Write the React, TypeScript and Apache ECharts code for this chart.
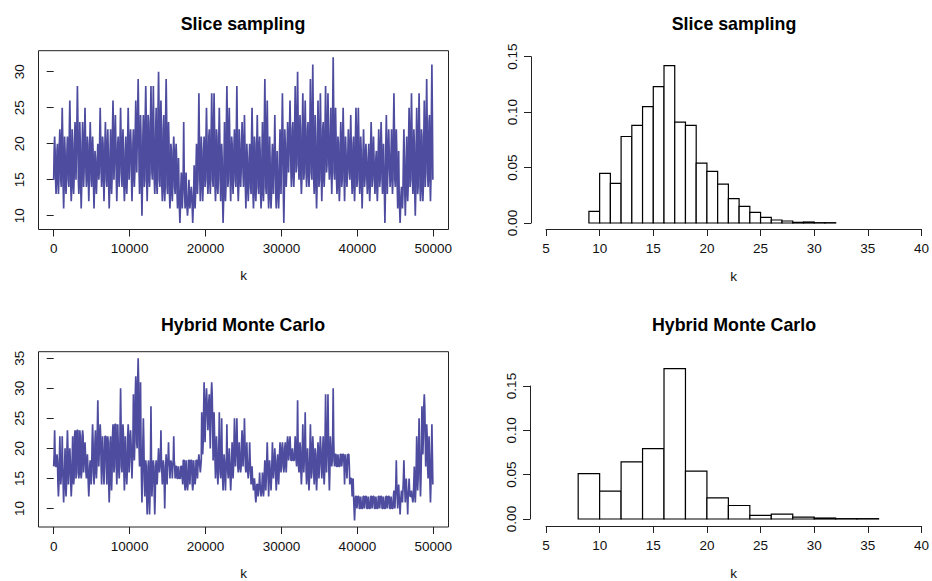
import React, { useEffect, useRef } from 'react';
import * as echarts from 'echarts';

const FONT = '"Liberation Sans", Arial, Helvetica, sans-serif';
const TRACE_COLOR = '#4E4C9F';
const AXIS_COLOR = '#222';

// ---- Trace data, per 500 iterations ----
// hi/lo: extreme values reached in the segment; bandHi/bandLo: edges of the dense band
const STEP = 500;
const sliceHi = [
  21, 22, 25, 21, 26, 23, 28, 23, 25, 23,
  21, 20, 25, 23, 22, 26, 24, 25, 22, 25,
  22, 26, 29, 24, 28, 28, 28, 30, 26, 29,
  23, 21, 20, 16, 23, 15, 14, 20, 27, 21,
  25, 27, 27, 25, 20, 28, 25, 22, 28, 23,
  24, 20, 25, 24, 21, 29, 26, 20, 24, 22,
  27, 23, 26, 28, 30, 27, 26, 29, 31, 26,
  27, 28, 27, 32, 25, 23, 25, 22, 24, 25,
  25, 22, 20, 23, 21, 22, 23, 24, 22, 27,
  22, 14, 22, 25, 27, 25, 27, 26, 29, 31,
];
const sliceBandHi = [
  19, 20, 21, 19, 22, 20, 23, 20, 21, 20,
  19, 18, 21, 20, 19, 22, 20, 21, 19, 21,
  20, 22, 24, 21, 24, 23, 22, 25, 22, 24,
  20, 19, 18, 14, 16, 13, 13, 17, 21, 19,
  21, 22, 22, 21, 18, 23, 21, 20, 22, 20,
  20, 18, 21, 20, 19, 23, 21, 18, 19, 19,
  22, 20, 22, 23, 24, 22, 22, 23, 24, 21,
  22, 23, 22, 25, 21, 20, 21, 19, 20, 21,
  21, 19, 18, 20, 18, 19, 20, 20, 19, 22,
  19, 13, 18, 21, 22, 20, 22, 21, 23, 24,
];
const sliceBandLo = [
  15, 15, 14, 15, 14, 15, 15, 14, 16, 15,
  14, 15, 16, 15, 14, 15, 15, 16, 14, 15,
  15, 16, 16, 14, 15, 16, 15, 15, 14, 14,
  13, 14, 13, 11, 13, 11, 11, 13, 15, 14,
  15, 15, 14, 15, 12, 14, 15, 15, 14, 16,
  14, 14, 13, 14, 13, 14, 13, 13, 13, 13,
  13, 16, 16, 16, 17, 15, 16, 16, 15, 14,
  15, 16, 17, 16, 15, 14, 15, 16, 15, 14,
  15, 14, 15, 14, 15, 14, 15, 13, 16, 15,
  14, 11, 13, 14, 15, 13, 14, 14, 16, 15,
];
const sliceLo = [
  13, 13, 11, 13, 12, 13, 13, 11, 14, 12,
  11, 13, 14, 12, 11, 13, 12, 14, 12, 13,
  12, 14, 13, 10, 12, 14, 13, 13, 12, 12,
  11, 12, 11, 9, 11, 10, 9, 11, 12, 12,
  13, 13, 12, 13, 9, 12, 12, 13, 12, 14,
  11, 12, 11, 12, 11, 12, 11, 11, 11, 11,
  9, 14, 14, 14, 15, 13, 14, 14, 13, 11,
  12, 14, 15, 13, 13, 12, 12, 14, 13, 12,
  13, 11, 13, 12, 13, 12, 13, 9, 14, 13,
  11, 9, 10, 12, 13, 10, 12, 12, 14, 12,
];

const hmcHi = [
  23, 22, 22, 23, 20, 23, 23, 23, 21, 18,
  24, 28, 24, 22, 22, 24, 24, 30, 24, 24,
  23, 32, 35, 25, 18, 27, 18, 20, 23, 19,
  21, 22, 17, 17, 18, 18, 18, 18, 19, 31,
  30, 31, 26, 26, 25, 24, 20, 25, 25, 23,
  25, 21, 17, 14, 16, 18, 21, 21, 20, 21,
  21, 22, 22, 22, 28, 24, 26, 24, 22, 21,
  22, 29, 29, 30, 19, 19, 19, 19, 15, 12,
  12, 12, 12, 12, 12, 12, 12, 12, 12, 13,
  18, 13, 18, 15, 13, 22, 25, 29, 24, 24,
];
const hmcBandHi = [
  19, 18, 17, 20, 18, 22, 23, 22, 19, 17,
  21, 23, 22, 22, 21, 22, 24, 24, 22, 22,
  21, 29, 31, 21, 17, 18, 17, 18, 18, 17,
  18, 18, 17, 17, 18, 18, 18, 18, 18, 26,
  28, 29, 22, 20, 19, 18, 18, 21, 21, 21,
  21, 18, 15, 14, 14, 16, 18, 18, 18, 19,
  20, 21, 20, 20, 21, 20, 20, 20, 20, 19,
  20, 22, 22, 22, 19, 19, 19, 19, 15, 12,
  12, 12, 12, 12, 12, 12, 12, 12, 12, 12,
  14, 12, 15, 13, 12, 17, 20, 27, 22, 19,
];
const hmcBandLo = [
  17, 14, 14, 14, 14, 15, 16, 16, 16, 14,
  16, 17, 17, 17, 14, 16, 17, 17, 16, 16,
  18, 21, 20, 15, 12, 12, 12, 16, 16, 14,
  17, 17, 15, 15, 14, 14, 14, 15, 17, 21,
  25, 24, 18, 16, 15, 16, 15, 17, 17, 17,
  17, 16, 14, 12, 13, 13, 15, 15, 15, 16,
  17, 18, 18, 18, 17, 16, 16, 15, 16, 15,
  17, 16, 16, 18, 17, 17, 17, 17, 14, 10,
  10, 10, 10, 10, 10, 10, 10, 10, 10, 10,
  12, 11, 13, 12, 12, 13, 15, 22, 17, 14,
];
const hmcLo = [
  17, 12, 11, 12, 12, 14, 15, 15, 15, 12,
  14, 15, 14, 14, 11, 13, 14, 15, 13, 14,
  15, 18, 17, 11, 9, 9, 9, 14, 14, 10,
  15, 15, 15, 15, 13, 13, 13, 14, 16, 19,
  23, 20, 15, 14, 13, 13, 13, 15, 16, 16,
  16, 15, 13, 11, 12, 12, 12, 13, 13, 14,
  16, 16, 18, 18, 16, 14, 14, 13, 14, 13,
  15, 14, 13, 17, 17, 17, 14, 15, 12, 8,
  10, 10, 10, 10, 10, 10, 10, 10, 10, 10,
  10, 9, 11, 9, 11, 11, 12, 19, 15, 11,
];

const traceXTicks = [0, 10000, 20000, 30000, 40000, 50000];
const sliceYTicks = [10, 15, 20, 25, 30];
const hmcYTicks = [10, 15, 20, 25, 30, 35];

// ---- Histogram data (densities) ----
const sliceBreaks = [9, 10, 11, 12, 13, 14, 15, 16, 17, 18, 19, 20, 21, 22, 23, 24, 25, 26, 27, 28, 29, 30, 31, 32];
const sliceDensity = [
  0.0105, 0.0448, 0.0358, 0.078, 0.088, 0.105, 0.123, 0.142, 0.091, 0.088,
  0.054, 0.0466, 0.035, 0.022, 0.015, 0.0096, 0.005, 0.0027, 0.0018, 0.0006,
  0.0009, 0.0003, 0.0003,
];
const hmcBreaks = [8, 10, 12, 14, 16, 18, 20, 22, 24, 26, 28, 30, 32, 34, 36];
const hmcDensity = [0.0511, 0.0315, 0.0645, 0.0793, 0.1696, 0.054, 0.0239, 0.0152, 0.004, 0.0054, 0.0022, 0.0011, 0.0004, 0.0004];

// Each 500-iteration segment: the chain moves inside its dense band,
// with one excursion to the segment's max and one to its min.
function buildTrace(hi: number[], bandHi: number[], bandLo: number[], lo: number[]) {
  const pts: number[][] = [];
  const sub = STEP / 8;
  for (let i = 0; i < hi.length; i++) {
    const x0 = i * STEP;
    const seq = i % 2 === 0
      ? [bandLo[i], bandHi[i], hi[i], bandHi[i], bandLo[i], lo[i], bandLo[i], bandHi[i]]
      : [bandHi[i], bandLo[i], lo[i], bandLo[i], bandHi[i], hi[i], bandHi[i], bandLo[i]];
    seq.forEach((v, k) => pts.push([x0 + k * sub, v]));
  }
  pts.push([hi.length * STEP, bandLo[bandLo.length - 1]]);
  return pts;
}

function buildHist(breaks: number[], dens: number[]) {
  return dens.map((d, i) => [breaks[i], breaks[i + 1], d]);
}

const labelStyle = { fontFamily: FONT, fontSize: 13.5, color: '#111' };
const nameStyle = { fontFamily: FONT, fontSize: 13.5, color: '#111' };

function traceAxes(gridIndex: number, yMin: number, yMax: number, yTicks: number[]) {
  const x = {
    type: 'value', gridIndex, min: -2000, max: 52000,
    axisLine: { show: false },
    splitLine: { show: false },
    axisTick: { show: true, length: 7, customValues: traceXTicks, lineStyle: { color: AXIS_COLOR } },
    axisLabel: { ...labelStyle, customValues: traceXTicks, margin: 12, formatter: (v: number) => String(v) },
    name: 'k', nameLocation: 'middle', nameGap: 39, nameTextStyle: nameStyle,
  };
  const y = {
    type: 'value', gridIndex, min: yMin, max: yMax,
    axisLine: { show: false },
    splitLine: { show: false },
    axisTick: { show: true, length: 7, customValues: yTicks, lineStyle: { color: AXIS_COLOR } },
    axisLabel: { ...labelStyle, customValues: yTicks, rotate: 90, margin: 12, formatter: (v: number) => String(v) },
  };
  return { x, y };
}

function histAxes(gridIndex: number, xOffset: number, yOffset: number) {
  const x = {
    type: 'value', gridIndex, min: 5, max: 40, interval: 5, offset: xOffset,
    axisLine: { show: true, onZero: false, lineStyle: { color: AXIS_COLOR, width: 1 } },
    splitLine: { show: false },
    axisTick: { show: true, length: 7, lineStyle: { color: AXIS_COLOR } },
    axisLabel: { ...labelStyle, margin: 12 },
    name: 'k', nameLocation: 'middle', nameGap: 40, nameTextStyle: nameStyle,
  };
  const y = {
    type: 'value', gridIndex, min: 0, max: 0.15, interval: 0.05, offset: yOffset,
    axisLine: { show: true, onZero: false, lineStyle: { color: AXIS_COLOR, width: 1 } },
    splitLine: { show: false },
    axisTick: { show: true, length: 7, lineStyle: { color: AXIS_COLOR } },
    axisLabel: { ...labelStyle, rotate: 90, margin: 12, formatter: (v: number) => v.toFixed(2) },
  };
  return { x, y };
}

const renderBar = (params: any, api: any) => {
  const x0 = api.value(0);
  const x1 = api.value(1);
  const v = api.value(2);
  const p0 = api.coord([x0, 0]);
  const p1 = api.coord([x1, v]);
  return {
    type: 'rect',
    shape: { x: p0[0], y: p1[1], width: p1[0] - p0[0], height: p0[1] - p1[1] },
    style: { fill: '#fff', stroke: '#000', lineWidth: 1.2 },
  };
};

export default function App() {
  const ref = useRef<HTMLDivElement>(null);
  useEffect(() => {
    if (!ref.current) return;
    const chart = echarts.init(ref.current, undefined, { renderer: 'svg' });
    const t1 = traceAxes(0, 8.08, 32.92, sliceYTicks);
    const h1 = histAxes(1, 6, 15);
    const t2 = traceAxes(2, 6.92, 36.08, hmcYTicks);
    const h2 = histAxes(3, 7, 16);
    const titleStyle = (text: string, x: number, y: number) => ({
      type: 'text', x, y,
      style: { text, font: `bold 17.8px ${FONT}`, fill: '#000', textAlign: 'center', textVerticalAlign: 'middle' },
    });
    chart.setOption({
      animation: false,
      backgroundColor: '#fff',
      grid: [
        { left: 38.5, top: 50.7, width: 410, height: 178.8, show: true, borderColor: AXIS_COLOR, borderWidth: 1 },
        { left: 546, top: 56.7, width: 378.3, height: 166.3 },
        { left: 38.5, top: 351.7, width: 410, height: 178.9, show: true, borderColor: AXIS_COLOR, borderWidth: 1 },
        { left: 546, top: 386, width: 378.3, height: 138 },
      ],
      xAxis: [t1.x, h1.x, t2.x, h2.x],
      yAxis: [t1.y, h1.y, t2.y, h2.y],
      graphic: [
        titleStyle('Slice sampling', 243, 24),
        titleStyle('Slice sampling', 734, 24),
        titleStyle('Hybrid Monte Carlo', 243, 325),
        titleStyle('Hybrid Monte Carlo', 734, 325),
      ],
      series: [
        {
          type: 'line', xAxisIndex: 0, yAxisIndex: 0,
          data: buildTrace(sliceHi, sliceBandHi, sliceBandLo, sliceLo),
          showSymbol: false, symbol: 'none',
          lineStyle: { color: TRACE_COLOR, width: 1.7, join: 'bevel' },
        },
        {
          type: 'custom', xAxisIndex: 1, yAxisIndex: 1,
          data: buildHist(sliceBreaks, sliceDensity),
          encode: { x: [0, 1], y: 2 },
          renderItem: renderBar, clip: false,
        },
        {
          type: 'line', xAxisIndex: 2, yAxisIndex: 2,
          data: buildTrace(hmcHi, hmcBandHi, hmcBandLo, hmcLo),
          showSymbol: false, symbol: 'none',
          lineStyle: { color: TRACE_COLOR, width: 1.7, join: 'bevel' },
        },
        {
          type: 'custom', xAxisIndex: 3, yAxisIndex: 3,
          data: buildHist(hmcBreaks, hmcDensity),
          encode: { x: [0, 1], y: 2 },
          renderItem: renderBar, clip: false,
        },
      ],
    });
    return () => chart.dispose();
  }, []);
  return (
    <div
      ref={ref}
      style={{ position: 'fixed', left: 0, top: 0, width: 932, height: 581, background: '#fff' }}
    />
  );
}
